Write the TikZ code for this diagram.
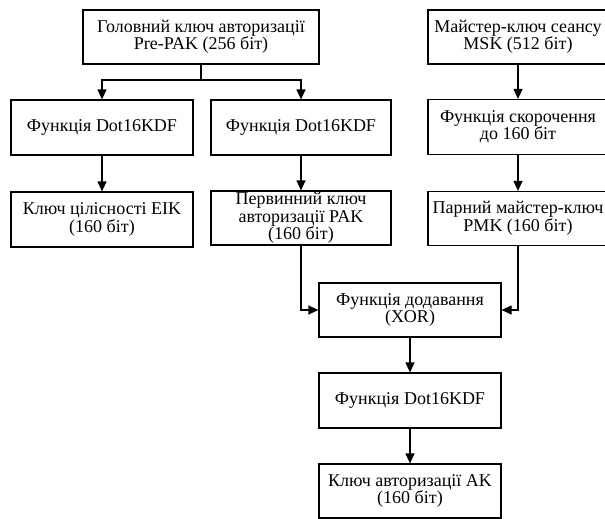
\documentclass[tikz,border=0pt]{standalone}
\usepackage{fontspec}
\setmainfont{Liberation Serif}
\usetikzlibrary{arrows.meta}
\begin{document}
\begin{tikzpicture}[x=1pt,y=-1pt,
  box/.style={draw,line width=1.2pt,align=center,inner sep=0pt,
    font=\fontsize{18}{17.5}\selectfont},
  arr/.style={line width=1.2pt,-{Triangle[length=10pt,width=9pt]}},
  ln/.style={line width=1.2pt}]
\useasboundingbox (0,0) rectangle (605,519);
\node[box,minimum width=236pt,minimum height=54pt] (pre) at (201,37) {Головний ключ авторизації\\Pre-PAK (256 біт)};
\node[box,minimum width=180pt,minimum height=54pt] (msk) at (518,37) {Майстер-ключ сеансу\\MSK (512 біт)};
\node[box,minimum width=182pt,minimum height=55pt] (d1) at (102,127.5) {Функція Dot16KDF};
\node[box,minimum width=180pt,minimum height=55pt] (d2) at (301,127.5) {Функція Dot16KDF};
\node[box,minimum width=180pt,minimum height=55pt] (sc) at (518,127) {Функція скорочення\\до 160 біт};
\node[box,minimum width=182pt,minimum height=55pt] (eik) at (102,219.5) {Ключ цілісності EIK\\(160 біт)};
\node[box,minimum width=180pt,minimum height=54pt] (pak) at (301,218) {Первинний ключ\\авторизації PAK\\(160 біт)};
\node[box,minimum width=180pt,minimum height=54pt] (pmk) at (518,218.5) {Парний майстер-ключ\\PMK (160 біт)};
\node[box,minimum width=182pt,minimum height=54pt] (xor) at (410,310) {Функція додавання\\(XOR)};
\node[box,minimum width=182pt,minimum height=55pt] (d3) at (410,400.5) {Функція Dot16KDF};
\node[box,minimum width=182pt,minimum height=54pt] (ak) at (410,491) {Ключ авторизації AK\\(160 біт)};
\coordinate (split) at (201,80);
\draw[ln] (pre.south) -- (split);
\draw[arr] (split) -| (d1.north);
\draw[arr] (split) -| (d2.north);
\draw[arr] (d1) -- (eik);
\draw[arr] (d2) -- (pak);
\draw[arr] (msk) -- (sc);
\draw[arr] (sc) -- (pmk);
\draw[arr] (pak.south) |- (xor.west);
\draw[arr] (pmk.south) |- (xor.east);
\draw[arr] (xor) -- (d3);
\draw[arr] (d3) -- (ak);
\end{tikzpicture}
\end{document}
